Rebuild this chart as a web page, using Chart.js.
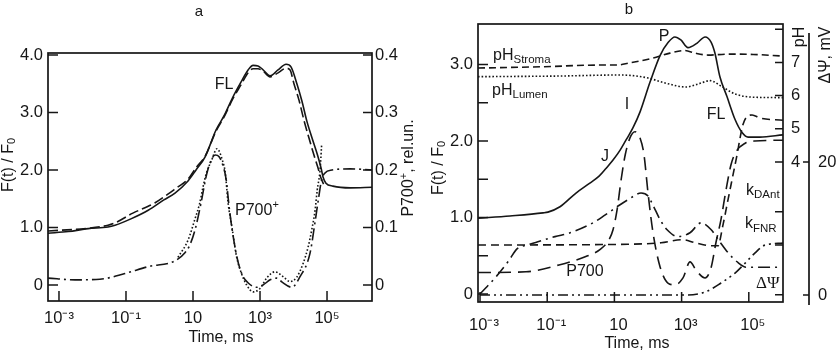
<!DOCTYPE html>
<html><head><meta charset="utf-8">
<script src="https://cdn.jsdelivr.net/npm/chart.js@4.4.1/dist/chart.umd.min.js"></script>
<style>
html,body{margin:0;padding:0;background:#fff;}
#wrap{position:relative;width:839px;height:355px;overflow:hidden;background:#fff;}
canvas{position:absolute;top:0;}
#ca{left:0;} #cb{left:420px;}
</style></head><body>
<div id="wrap"><canvas id="ca" width="420" height="355"></canvas><canvas id="cb" width="419" height="355"></canvas></div>
<script>
// ---------- shared tick data ----------
const timeTicks = [1e-3, 1e-1, 10, 1e3, 1e5];
const timeTickLabels = ['10⁻³', '10⁻¹', '10', '10³', '10⁵'];

// ---------- panel a ----------
const aFTicks = [0, 1, 2, 3, 4];
const aFTickLabels = ['0', '1.0', '2.0', '3.0', '4.0'];
const aPTicks = [0, 0.1, 0.2, 0.3, 0.4];
const aPTickLabels = ['0', '0.1', '0.2', '0.3', '0.4'];

const aSolidT = [4.7e-4, 1.9e-3, 7.4e-3, 0.029, 0.047, 0.14, 0.46, 1.35, 2.9, 7.1, 12.3, 23, 49, 84, 155, 270, 440, 620, 870, 1150, 2000, 3450, 6000, 8500, 12600, 17800, 25000, 35500, 52000, 66000, 76000, 93000, 150000, 490000, 2.2e6];
const aSolidF = [0.90, 0.93, 0.98, 1.01, 1.04, 1.15, 1.30, 1.48, 1.60, 1.81, 2.00, 2.23, 2.70, 2.94, 3.27, 3.53, 3.74, 3.82, 3.81, 3.76, 3.64, 3.74, 3.84, 3.79, 3.50, 3.20, 2.85, 2.56, 2.26, 2.04, 1.88, 1.77, 1.72, 1.69, 1.70];

const aDashT = [4.7e-4, 8.5e-3, 0.029, 0.047, 0.16, 0.46, 0.74, 1.78, 2.9, 7.1, 12.3, 23, 49, 84, 155, 270, 440, 620, 870, 1230, 2000, 3450, 6000, 7900, 10200, 14500, 20400, 28800, 40700, 53700, 66000, 81300];
const aDashF = [0.94, 0.99, 1.04, 1.08, 1.25, 1.37, 1.43, 1.58, 1.67, 1.84, 2.04, 2.24, 2.68, 2.92, 3.24, 3.48, 3.69, 3.76, 3.76, 3.72, 3.62, 3.69, 3.77, 3.74, 3.51, 3.22, 2.87, 2.56, 2.26, 2.04, 1.86, 1.74];

const aDotT = [3.55, 7.1, 11.2, 15.8, 20, 25, 36, 52, 78, 91, 112, 145, 200, 280, 400, 630, 1000, 1580, 2800, 5000, 7900, 12600, 19500, 27500, 35000, 44000, 51000, 62000, 69000];
const aDotP = [0.048, 0.078, 0.113, 0.142, 0.171, 0.194, 0.217, 0.237, 0.214, 0.197, 0.142, 0.101, 0.049, 0.020, 0.000, -0.012, -0.006, 0.012, 0.023, 0.014, 0.006, 0.014, 0.038, 0.067, 0.096, 0.130, 0.165, 0.200, 0.243];

const aDdT = [4.7e-4, 3.0e-3, 0.0166, 0.093, 0.46, 2.9, 5.75, 8.1, 11.5, 17.4, 24.5, 32, 46, 60, 79, 98, 118, 145, 204, 288, 437, 800, 1230, 2000, 3160, 4570, 8900, 15500, 31000, 44000, 55000, 69000, 87000, 141000, 490000, 2.2e6];
const aDdP = [0.012, 0.009, 0.010, 0.020, 0.032, 0.042, 0.056, 0.070, 0.096, 0.143, 0.188, 0.212, 0.226, 0.223, 0.207, 0.183, 0.139, 0.099, 0.049, 0.019, 0.004, -0.004, 0.000, 0.009, 0.012, 0.005, -0.004, 0.014, 0.055, 0.110, 0.148, 0.183, 0.195, 0.200, 0.202, 0.200];

// ---------- panel b ----------
const bFTicks = [0, 1, 2, 3];
const bFTickLabels = ['0', '1.0', '2.0', '3.0'];
const bFMinorTicks = [0, 0.5, 1, 1.5, 2, 2.5, 3];
const bPHTicks = [4, 5, 6, 7];
const bPHTickLabels = ['4', '5', '6', '7'];
const bPHMarks = [0, 1.5, 2.5, 4, 5, 6, 7, 8];
const bPsiTicks = [0, 20];
const bPsiTickLabels = ['0', '20'];

const bFLT = [8.7e-4, 7.8e-3, 0.075, 0.105, 0.24, 0.72, 1.86, 3.5, 5.6, 9.1, 14.8, 22, 35.5, 58, 115, 230, 400, 630, 950, 1550, 2900, 5000, 7600, 9800, 13800, 22400, 39000, 63000, 95000, 214000, 1.04e6];
const bFL = [0.99, 1.02, 1.06, 1.07, 1.14, 1.32, 1.45, 1.54, 1.64, 1.75, 1.88, 2.01, 2.17, 2.38, 2.77, 3.12, 3.29, 3.36, 3.32, 3.22, 3.28, 3.36, 3.29, 3.15, 2.84, 2.58, 2.28, 2.11, 2.05, 2.05, 2.08];

const bStromaT = [8.7e-4, 0.075, 3.5, 12, 27, 141, 450, 1260, 2500, 6200, 24000, 135000, 1.04e6];
const bStromaPH = [6.83, 6.87, 6.92, 6.92, 6.98, 7.13, 7.28, 7.36, 7.28, 7.22, 7.25, 7.24, 7.19];

const bLumenT = [8.7e-4, 0.24, 12, 29, 100, 320, 1350, 3100, 7100, 14800, 39000, 151000, 1.04e6];
const bLumenPH = [6.57, 6.59, 6.62, 6.61, 6.53, 6.38, 6.26, 6.35, 6.45, 6.29, 6.05, 5.95, 5.94];

const bP700T = [8.7e-4, 0.0234, 0.224, 1.41, 3.7, 6.9, 9.1, 12, 15.8, 21, 29, 41, 58, 76, 100, 141, 230, 400, 630, 1100, 1780, 2700, 5000, 7600, 10500, 14800, 21000, 29500, 41700, 78000, 151000, 1.04e6];
const bP700 = [0.28, 0.29, 0.38, 0.49, 0.58, 0.71, 0.84, 1.10, 1.49, 1.82, 2.04, 2.12, 2.04, 1.82, 1.32, 0.80, 0.35, 0.14, 0.12, 0.21, 0.42, 0.31, 0.21, 0.35, 0.67, 0.97, 1.36, 1.69, 1.86, 1.97, 2.00, 2.01];

const bKDAntT = [8.7e-4, 25, 245, 1100, 2500, 7600, 12000, 17000, 24000, 34000, 44700, 55000, 67600, 95000, 126000, 214000, 1.04e6];
const bKDAnt = [0.64, 0.65, 0.67, 0.71, 0.67, 0.63, 0.63, 0.90, 1.23, 1.56, 1.82, 2.04, 2.22, 2.33, 2.34, 2.30, 2.27];

const bKFNRT = [1.0e-3, 3.2e-3, 7.3e-3, 0.0126, 0.025, 0.05, 0.17, 0.48, 2.3, 5.2, 12, 27, 62, 100, 141, 230, 370, 780, 1780, 3800, 7600, 13800, 24000, 48000, 83000, 229000, 740000];
const bKFNR = [0.00, 0.24, 0.44, 0.59, 0.64, 0.68, 0.75, 0.80, 0.93, 1.03, 1.14, 1.24, 1.32, 1.28, 1.16, 0.97, 0.84, 0.75, 0.80, 0.93, 0.84, 0.68, 0.54, 0.41, 0.35, 0.35, 0.35];

const bPsiT = [1.0e-3, 58, 1550, 5000, 14800, 39000, 78000, 151000, 302000, 1.04e6];
const bPsi = [0, 0, 0, 0.45, 1.8, 3.3, 4.8, 6.3, 7.5, 7.8];

// ---------- helpers ----------
const SANS = '"Liberation Sans", Arial, Helvetica, sans-serif';
const SERIF = '"Liberation Serif", "Times New Roman", serif';
const INK = '#161616';
const tickFont = { family: SANS, size: 16.5 };

function pts(xs, ys) { return xs.map((x, i) => ({ x: x, y: ys[i] })); }
function line(label, xs, ys, dash, yAxisID) {
  return { label, data: pts(xs, ys), yAxisID, borderColor: INK, borderWidth: 1.6,
    borderDash: dash, pointRadius: 0, pointHoverRadius: 0, fill: false,
    cubicInterpolationMode: 'monotone', borderCapStyle: 'butt', borderJoinStyle: 'round' };
}
function fixed(size) {
  return function (s) {
    if (s.isHorizontal()) s.height = size; else s.width = size;
    s.paddingTop = 0; s.paddingBottom = 0; s.paddingLeft = 0; s.paddingRight = 0;
  };
}
function setTicks(vals) { return function (s) { s.ticks = vals.map(v => ({ value: v })); }; }
function labelsFrom(labels) { return function (v, i) { return labels[i]; }; }

function rich(ctx, parts, x, y, align, rot, baseline) {
  ctx.save();
  ctx.translate(x, y);
  if (rot) ctx.rotate(rot);
  ctx.textBaseline = baseline || 'alphabetic';
  let w = 0;
  parts.forEach(p => { ctx.font = p.size + 'px ' + (p.fam || SANS); p.w = ctx.measureText(p.t).width; w += p.w; });
  let cx = align === 'center' ? -w / 2 : (align === 'right' ? -w : 0);
  parts.forEach(p => { ctx.font = p.size + 'px ' + (p.fam || SANS); ctx.fillText(p.t, cx, p.dy || 0); cx += p.w; });
  ctx.restore();
}
function inTicks(chart, id, vals, side, len) {
  const s = chart.scales[id], a = chart.chartArea, ctx = chart.ctx;
  ctx.beginPath();
  vals.forEach(v => {
    const p = s.getPixelForValue(v);
    if (side === 'bottom') { ctx.moveTo(p, a.bottom); ctx.lineTo(p, a.bottom - len); }
    else if (side === 'left') { ctx.moveTo(a.left, p); ctx.lineTo(a.left + len, p); }
    else if (side === 'right') { ctx.moveTo(a.right, p); ctx.lineTo(a.right - len, p); }
  });
  ctx.stroke();
}
function baseX(min, max, h, pad, off) {
  return { type: 'logarithmic', min, max, position: 'bottom', bounds: 'data',
    afterBuildTicks: setTicks(timeTicks), afterFit: fixed(h),
    grid: { display: false, drawTicks: false }, border: { display: false },
    ticks: { autoSkip: false, maxRotation: 0, minRotation: 0, padding: pad, labelOffset: off || 0,
      font: tickFont, color: INK, callback: labelsFrom(timeTickLabels) } };
}
function baseY(min, max, pos, w, vals, labels, pad) {
  return { type: 'linear', min, max, position: pos, bounds: 'data',
    afterBuildTicks: setTicks(vals), afterFit: fixed(w),
    grid: { display: false, drawTicks: false }, border: { display: false },
    ticks: { padding: pad, font: tickFont, color: INK, callback: labelsFrom(labels) } };
}
const common = { responsive: false, animation: false, devicePixelRatio: 1,
  plugins: { legend: { display: false }, tooltip: { enabled: false }, title: { display: false } },
  events: [] };

// ---------- chart a ----------
const decoA = {
  id: 'decoA',
  afterDraw(chart) {
    const ctx = chart.ctx, a = chart.chartArea, sx = chart.scales.x, sy = chart.scales.y;
    ctx.save();
    ctx.strokeStyle = INK; ctx.fillStyle = INK; ctx.lineWidth = 1.7;
    ctx.strokeRect(a.left, a.top, a.right - a.left, a.bottom - a.top);
    ctx.lineWidth = 1.5;
    inTicks(chart, 'x', timeTicks, 'bottom', 10);
    inTicks(chart, 'y', aFTicks, 'left', 10);
    inTicks(chart, 'y2', aPTicks, 'right', 9);
    rich(ctx, [{ t: 'a', size: 15 }], 199, 12, 'center', 0, 'middle');
    rich(ctx, [{ t: 'F(t) / F', size: 16 }, { t: '0', size: 11, dy: 3 }], 9, 165, 'center', -Math.PI / 2, 'middle');
    rich(ctx, [{ t: 'P700', size: 16 }, { t: '+', size: 11, dy: -5 }, { t: ', rel.un.', size: 16 }], 409, 168, 'center', -Math.PI / 2, 'middle');
    rich(ctx, [{ t: 'Time, ms', size: 16 }], 221, 338, 'center', 0, 'middle');
    rich(ctx, [{ t: 'FL', size: 16 }], sx.getPixelForValue(84), sy.getPixelForValue(3.48), 'center', 0, 'middle');
    rich(ctx, [{ t: 'P700', size: 16 }, { t: '+', size: 11, dy: -5 }], sx.getPixelForValue(810), sy.getPixelForValue(1.30), 'center', 0, 'middle');
    ctx.restore();
  }
};

new Chart(document.getElementById('ca'), {
  type: 'line',
  data: { datasets: [
    line('FL (solid)', aSolidT, aSolidF, [], 'y'),
    line('FL (dashed)', aDashT, aDashF, [10, 4], 'y'),
    line('P700+ (dotted)', aDotT, aDotP, [1.6, 2], 'y2'),
    line('P700+ (dash-dot)', aDdT, aDdP, [12, 4, 2, 4], 'y2')
  ] },
  options: Object.assign({}, common, {
    layout: { padding: { top: 53, left: 0, right: 0, bottom: 0 } },
    scales: {
      x: baseX(4.7e-4, 2.2e6, 54, 8, 0),
      y: baseY(-0.278, 4.035, 'left', 48, aFTicks, aFTickLabels, 5),
      y2: baseY(-0.0278, 0.4035, 'right', 48, aPTicks, aPTickLabels, 3)
    }
  }),
  plugins: [decoA]
});

// ---------- chart b ----------
const decoB = {
  id: 'decoB',
  afterDraw(chart) {
    const ctx = chart.ctx, a = chart.chartArea, sx = chart.scales.x, sy = chart.scales.y, sp = chart.scales.psi;
    ctx.save();
    ctx.strokeStyle = INK; ctx.fillStyle = INK; ctx.lineWidth = 1.7;
    ctx.strokeRect(a.left, a.top, a.right - a.left, a.bottom - a.top);
    ctx.lineWidth = 1.5;
    inTicks(chart, 'x', timeTicks, 'bottom', 10);
    inTicks(chart, 'y', bFMinorTicks, 'left', 10);
    inTicks(chart, 'ph', bPHMarks, 'right', 8);
    // delta psi axis line
    const px = sp.left;
    ctx.lineWidth = 1.7;
    ctx.beginPath();
    ctx.moveTo(px, sp.getPixelForValue(39.4)); ctx.lineTo(px, sp.getPixelForValue(-1.5));
    bPsiTicks.forEach(v => { const p = sp.getPixelForValue(v); ctx.moveTo(px - 6, p); ctx.lineTo(px, p); });
    ctx.stroke();
    rich(ctx, [{ t: 'b', size: 15 }], 209, 10, 'center', 0, 'middle');
    rich(ctx, [{ t: 'F(t) / F', size: 16 }, { t: '0', size: 11, dy: 3 }], 19, 168, 'center', -Math.PI / 2, 'middle');
    rich(ctx, [{ t: 'Time, ms', size: 16 }], 217, 344, 'center', 0, 'middle');
    rich(ctx, [{ t: 'pH', size: 16 }], 380, 37, 'center', -Math.PI / 2, 'middle');
    rich(ctx, [{ t: 'ΔΨ, mV', size: 16 }], 406, 55, 'center', -Math.PI / 2, 'middle');
    const X = v => sx.getPixelForValue(v), Y = v => sy.getPixelForValue(v);
    rich(ctx, [{ t: 'pH', size: 16 }, { t: 'Stroma', size: 11.5, dy: 3 }], X(2.44e-3), Y(3.059), 'left', 0, 'alphabetic');
    rich(ctx, [{ t: 'pH', size: 16 }, { t: 'Lumen', size: 11.5, dy: 3 }], X(2.28e-3), Y(2.601), 'left', 0, 'alphabetic');
    rich(ctx, [{ t: 'P', size: 16 }], X(300), Y(3.36), 'center', 0, 'middle');
    rich(ctx, [{ t: 'I', size: 16 }], X(23.7), Y(2.47), 'center', 0, 'middle');
    rich(ctx, [{ t: 'J', size: 16 }], X(5.25), Y(1.79), 'center', 0, 'middle');
    rich(ctx, [{ t: 'FL', size: 16 }], X(10600), Y(2.34), 'center', 0, 'middle');
    rich(ctx, [{ t: 'k', size: 16 }, { t: 'DAnt', size: 11.5, dy: 3 }], X(82600), Y(1.294), 'left', 0, 'alphabetic');
    rich(ctx, [{ t: 'k', size: 16 }, { t: 'FNR', size: 11.5, dy: 4 }], X(77100), Y(0.863), 'left', 0, 'alphabetic');
    rich(ctx, [{ t: 'ΔΨ', size: 17, fam: SERIF }], X(164000), Y(0.078), 'left', 0, 'alphabetic');
    rich(ctx, [{ t: 'P700', size: 16 }], X(1.33), Y(0.288), 'center', 0, 'middle');
    ctx.restore();
  }
};

new Chart(document.getElementById('cb'), {
  type: 'line',
  data: { datasets: [
    line('FL', bFLT, bFL, [], 'y'),
    line('pH Stroma', bStromaT, bStromaPH, [7, 4], 'ph'),
    line('pH Lumen', bLumenT, bLumenPH, [1.6, 2], 'ph'),
    line('P700', bP700T, bP700, [13, 7], 'y'),
    line('kDAnt', bKDAntT, bKDAnt, [8, 5], 'y'),
    line('kFNR', bKFNRT, bKFNR, [12, 5, 2, 5], 'y'),
    line('ΔΨ', bPsiT, bPsi, [10, 4, 2, 4, 2, 4], 'psi')
  ] },
  options: Object.assign({}, common, {
    layout: { padding: { top: 24, left: 0, right: 0, bottom: 0 } },
    scales: {
      x: baseX(8.71e-4, 1.042e6, 53, 14, 4),
      y: baseY(-0.1046, 3.529, 'left', 58, bFTicks, bFTickLabels, 5),
      ph: baseY(-0.217, 8.157, 'right', 26, bPHTicks, bPHTickLabels, 8),
      psi: baseY(-1.05, 40.75, 'right', 30, bPsiTicks, bPsiTickLabels, 9)
    }
  }),
  plugins: [decoB]
});
</script>
</body></html>
